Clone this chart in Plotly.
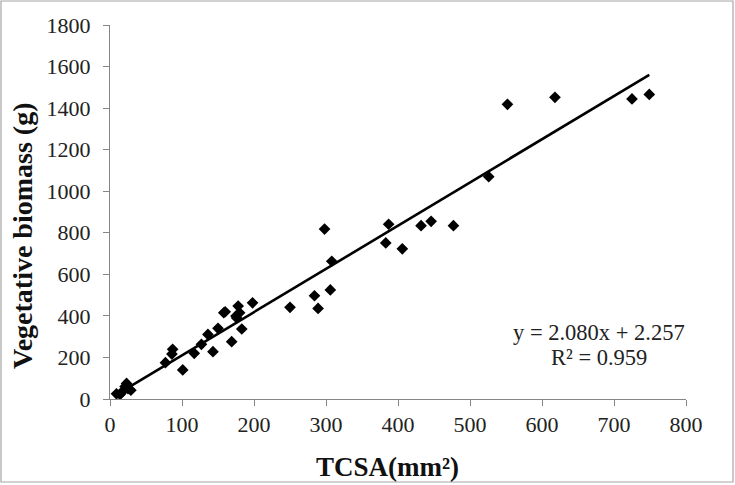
import plotly.graph_objects as go

# Data
tcsa = [9, 14, 18, 21, 23, 25, 29,
        77, 86, 87, 101, 117, 127, 136, 143, 150, 158, 160, 169, 175, 176, 178, 180, 183, 198,
        250, 284, 289, 298, 306, 308,
        383, 387, 406, 432, 446, 477, 526, 552, 618, 725, 749]
biomass = [25, 22, 38, 60, 75, 50, 42,
           175, 216, 239, 140, 220, 263, 311, 228, 340, 415, 420, 276, 399, 390, 447, 415, 337, 463,
           441, 497, 436, 818, 525, 663,
           751, 841, 723, 834, 855, 834, 1070, 1418, 1452, 1444, 1466]

slope = 2.080
intercept = 2.257
r2 = 0.959

x_ticks = [0, 100, 200, 300, 400, 500, 600, 700, 800]
y_ticks = [0, 200, 400, 600, 800, 1000, 1200, 1400, 1600, 1800]

fit_x = [min(tcsa), max(tcsa)]
fit_y = [slope * v + intercept for v in fit_x]

fig = go.Figure()
fig.add_trace(go.Scatter(x=fit_x, y=fit_y, mode="lines",
                         line=dict(color="black", width=2.6), showlegend=False,
                         hoverinfo="skip"))
fig.add_trace(go.Scatter(x=tcsa, y=biomass, mode="markers",
                         marker=dict(symbol="diamond", size=9, color="black"),
                         showlegend=False))

font_family = "Liberation Serif"

L, T, W, H = 110, 25, 576, 374


def px(x):
    return (x - L) / W


def py(y):
    return (T + H - y) / H


fig.update_layout(
    width=735, height=485,
    margin=dict(l=L, r=735 - L - W, t=T, b=485 - T - H),
    paper_bgcolor="white", plot_bgcolor="white",
    font=dict(family=font_family, color="#222", size=22),
    xaxis=dict(range=[0, 800], tickvals=x_ticks, showgrid=False, zeroline=False,
               showline=True, linecolor="#868686", linewidth=1,
               ticks="outside", ticklen=6, tickcolor="#868686",
               tickfont=dict(size=22, family=font_family, color="#222")),
    yaxis=dict(range=[0, 1800], tickvals=y_ticks, showgrid=False, zeroline=False,
               showline=True, linecolor="#868686", linewidth=1,
               ticks="outside", ticklen=6, tickcolor="#868686", ticklabelstandoff=8,
               tickfont=dict(size=22, family=font_family, color="#222")),
    shapes=[dict(type="rect", xref="paper", yref="paper",
                 x0=px(1), x1=px(733), y0=py(482), y1=py(1),
                 line=dict(color="#a6a6a6", width=1.2), fillcolor="rgba(0,0,0,0)",
                 layer="below")],
    annotations=[
        dict(text=f"y = {slope:.3f}x + {intercept:.3f}", x=px(599), y=py(332),
             xref="paper", yref="paper", showarrow=False, xanchor="center", yanchor="middle",
             font=dict(size=22.5, family=font_family, color="#222")),
        dict(text=f"R² = {r2:.3f}", x=px(599), y=py(357),
             xref="paper", yref="paper", showarrow=False, xanchor="center", yanchor="middle",
             font=dict(size=22.5, family=font_family, color="#222")),
        dict(text="<b>TCSA(mm²)</b>", x=px(387), y=py(467),
             xref="paper", yref="paper", showarrow=False, xanchor="center", yanchor="middle",
             font=dict(size=27, family=font_family, color="#111")),
        dict(text="<b>Vegetative biomass (g)</b>", x=px(22), y=py(236),
             xref="paper", yref="paper", showarrow=False, textangle=-90,
             xanchor="center", yanchor="middle",
             font=dict(size=28, family=font_family, color="#111")),
    ],
)

fig.write_html("out.html", config={"displayModeBar": False},
               post_script="document.body.style.margin='0';document.body.style.overflow='hidden';")
